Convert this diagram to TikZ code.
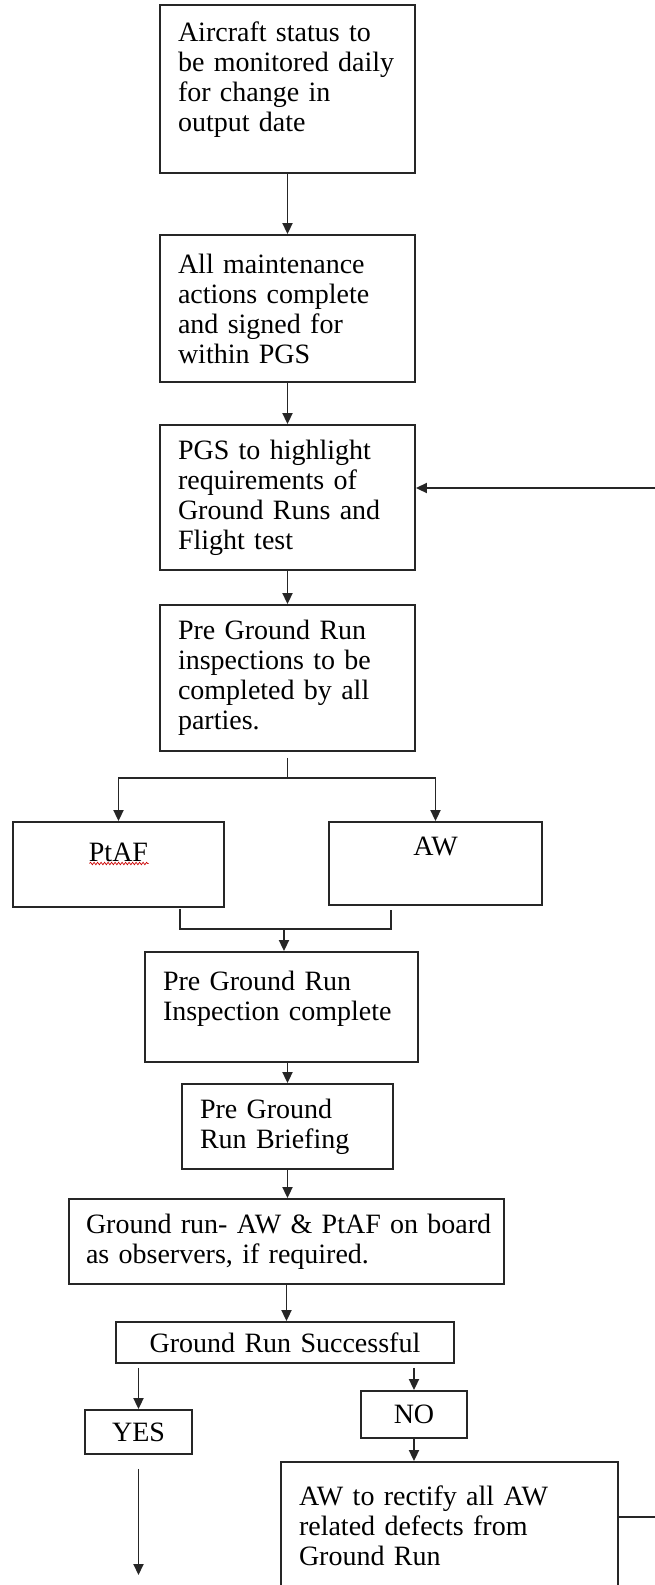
\documentclass[tikz,border=0pt]{standalone}
\usepackage{fontspec}
\setmainfont{Liberation Serif}[WordSpace=0.75]
\usetikzlibrary{arrows.meta,calc,decorations.pathmorphing}

\begin{document}
\begin{tikzpicture}[x=1pt,y=-1pt,font=\fontsize{28}{30}\selectfont,>={Triangle[length=11pt,width=10pt]},
  box/.style={draw=black!85,line width=1.9pt,align=left,inner xsep=18pt,inner ysep=0pt},
  tag/.style={box,align=center},
  link/.style={draw=black!85,line width=1.9pt}]
\useasboundingbox[fill=white] (0,0) rectangle (655,1585);
% boxes, placed by centre (px)
\node[box,text width=219pt,minimum height=168pt,text depth=115pt] (monitor) at (287.5,89) {Aircraft status to\\be monitored daily\\for change in\\output date};
\node[box,text width=219pt,minimum height=147pt] (signed) at (287.5,308.5) {All maintenance\\actions complete\\and signed for\\within PGS};
\node[box,text width=219pt,minimum height=145pt] (highlight) at (287.5,497.5) {PGS to highlight\\requirements of\\Ground Runs and\\Flight test};
\node[box,text width=219pt,minimum height=146pt] (preinsp) at (287.5,678) {Pre Ground Run\\inspections to be\\completed by all\\parties.};
\node[tag,text width=175pt,minimum height=85pt,text depth=25pt] (ptaf) at (118.5,864.5) {PtAF};
\node[tag,text width=177pt,minimum height=83pt,text depth=35pt] (aw) at (435.5,863.5) {AW};
\node[box,text width=237pt,minimum height=110pt,text depth=52pt] (insp) at (281.5,1007) {Pre Ground Run\\Inspection complete};
\node[box,text width=175pt,minimum height=85pt] (brief) at (287.5,1126.5) {Pre Ground\\Run Briefing};
\node[box,inner xsep=17pt,text width=401pt,minimum height=85pt] (grun) at (286.5,1241.5) {\mbox{Ground run- AW \& PtAF on board}\\as observers, if required.};
\node[tag,text width=302pt,minimum height=41pt] (grs) at (285,1342.5) {Ground Run Successful};
\node[tag,text width=71pt,minimum height=44pt] (yes) at (138.5,1432) {YES};
\node[tag,text width=70pt,minimum height=47pt] (no) at (414,1414.5) {NO};
\node[box,text width=301pt,minimum height=128pt] (rectify) at (449.5,1526) {AW to rectify all AW\\related defects from\\Ground Run};
% spell-check mark
\draw[red!80!black,line width=0.7pt,decorate,decoration={snake,amplitude=1.2pt,segment length=3.5pt}] ($(ptaf.center)+(-29,-1)$) -- ++(59,0);
% connectors
\coordinate (back) at (655,488);
\coordinate (split) at (287.5,778);
\coordinate (merge) at (284,929);
\coordinate (yesend) at (138.5,1575);
\coordinate (fixout) at (655,1517);
\draw[link,->] (monitor) -- (signed);
\draw[link,->] (signed) -- (highlight);
\draw[link,->] (back) -- (back -| highlight.east);
\draw[link,->] (highlight) -- (preinsp);
\draw[link] ($(preinsp.south)+(0,6)$) -- (split);
\draw[link,->] (split) -| (ptaf.north);
\draw[link,->] (split) -| (aw.north);
\draw[link] ($(ptaf.south)+(61.5,1)$) |- (merge) -| ($(aw.south)+(-44.5,4)$);
\draw[link,->] (merge) -- (merge |- insp.north);
\draw[link,->] (brief.north |- insp.south) -- (brief.north);
\draw[link,->] (brief.south) -- (brief.south |- grun.north);
\draw[link,->] (grun.south) -- (grun.south |- grs.north);
\draw[link,->] ($(grs.south -| yes.north)+(0,4)$) -- (yes.north);
\draw[link,->] ($(grs.south -| no.north)+(0,4)$) -- (no.north);
\draw[link,->] (no) -- (no |- rectify.north);
\draw[link,->] ($(yes.south)+(0,14)$) -- (yesend);
\draw[link] (fixout -| rectify.east) -- (fixout);
\end{tikzpicture}
\end{document}
